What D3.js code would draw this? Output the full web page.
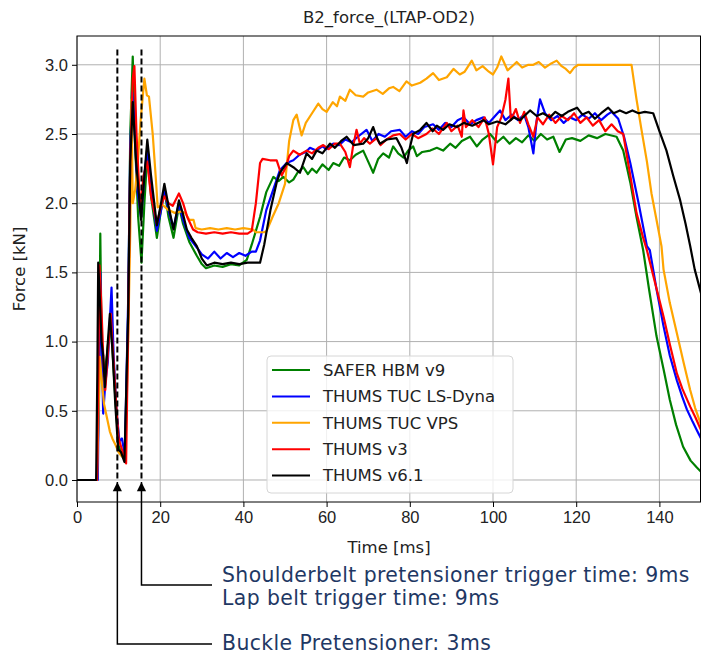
<!DOCTYPE html>
<html>
<head>
<meta charset="utf-8">
<script src="https://d3js.org/d3.v7.min.js"></script>
<style>
  body { margin: 0; background: #fff; }
  svg { display: block; font-family: "DejaVu Sans", sans-serif; }
  .tick text { font-size: 16.5px; fill: #222; }
</style>
</head>
<body>
<div id="chart"></div>
<script>
// time [ms], force [kN]
const safer = [[0,0],[4.8,0],[5.3,0.6],[5.6,1.78],[5.9,1.0],[6.5,0.75],[7.2,0.9],[8.0,1.15],[8.5,0.95],[9.3,0.55],[10,0.25],[10.8,0.18],[11.5,0.14],[12.3,1.2],[12.8,2.5],[13.4,3.06],[14.0,2.4],[14.7,1.9],[15.5,1.57],[16.2,2.0],[16.9,2.35],[17.8,2.05],[19.2,1.75],[20.2,1.95],[21,2.1],[22,1.9],[23.2,1.75],[24.5,1.98],[25.5,1.85],[27,1.72],[28.8,1.62],[30,1.56],[31,1.53],[33,1.55],[35,1.54],[37,1.56],[39,1.55],[40.8,1.59],[42,1.7],[44,1.9],[45.5,2.08],[47.2,2.19],[48.5,2.16],[49.6,2.19],[51,2.15],[52,2.17],[53,2.22],[54.4,2.26],[55.5,2.21],[56.5,2.25],[57.6,2.22],[59,2.28],[60.5,2.24],[61.6,2.29],[63,2.27],[64.2,2.33],[65.6,2.31],[67,2.35],[68.8,2.38],[70,2.3],[71.2,2.22],[72.4,2.32],[73.6,2.36],[75,2.33],[76,2.41],[77.2,2.36],[78.5,2.33],[79.6,2.38],[80.8,2.41],[81.7,2.34],[83,2.37],[84.9,2.38],[86.5,2.4],[88,2.38],[89.7,2.43],[91,2.4],[92.5,2.45],[94.5,2.48],[96.1,2.41],[97.5,2.46],[99.3,2.5],[101,2.44],[102.5,2.48],[104,2.43],[105.5,2.47],[107,2.44],[108.5,2.49],[110,2.45],[111.5,2.5],[113,2.46],[114.5,2.48],[116,2.37],[117.5,2.46],[119,2.47],[121,2.45],[123,2.49],[125,2.47],[127,2.5],[129.7,2.48],[131.3,2.38],[133,2.15],[134.5,1.9],[136.1,1.66],[137.5,1.38],[139.3,1.04],[141,0.8],[142.5,0.58],[144,0.4],[145.7,0.24],[147.5,0.14],[149,0.09],[150,0.06]];

const tucLsDyna = [[0,0],[5.0,0],[5.3,0.8],[5.6,1.5],[5.9,1.0],[6.3,0.48],[6.8,0.7],[7.4,0.85],[8.3,1.39],[8.8,0.9],[9.5,0.5],[10.2,0.28],[10.8,0.3],[11.5,0.18],[12.3,1.3],[12.8,2.4],[13.3,2.8],[13.8,2.6],[14.5,2.1],[15.4,1.9],[16.2,2.2],[16.9,2.4],[17.8,2.1],[19.2,1.8],[20.2,1.95],[21,2.1],[22,1.95],[23.2,1.82],[24.5,2.0],[25.5,1.88],[27,1.75],[28.8,1.68],[30,1.63],[31.5,1.6],[33,1.65],[34.5,1.6],[36,1.64],[37.5,1.61],[39,1.64],[40.5,1.62],[42,1.65],[43,1.65],[44,1.73],[45.5,1.95],[47.2,2.1],[48.8,2.24],[50.4,2.29],[52,2.31],[53.5,2.35],[55,2.37],[56,2.4],[57.5,2.38],[59,2.41],[60,2.39],[61.6,2.43],[63,2.42],[64.5,2.46],[66,2.44],[67.5,2.48],[69.6,2.53],[71,2.45],[72.5,2.5],[74,2.48],[75.5,2.52],[77.6,2.53],[79,2.48],[80.5,2.52],[82,2.5],[83.5,2.55],[85.6,2.57],[87,2.53],[88.5,2.58],[90,2.55],[91.5,2.6],[92.9,2.62],[94.5,2.57],[96,2.6],[97.7,2.62],[99,2.58],[100.5,2.63],[101.7,2.67],[103,2.6],[104.5,2.64],[106,2.6],[107.5,2.64],[108.5,2.55],[109.7,2.36],[110.5,2.6],[111.3,2.75],[112.5,2.65],[114,2.6],[115.5,2.63],[117,2.58],[118.5,2.62],[120,2.6],[121.5,2.64],[123,2.61],[124.5,2.65],[126,2.6],[127.5,2.64],[128.5,2.66],[130.1,2.61],[131.5,2.48],[133,2.29],[135,2.0],[137,1.69],[137.7,1.66],[139.3,1.38],[141,1.11],[142.5,0.9],[144.2,0.72],[145.5,0.6],[146.6,0.51],[148,0.42],[149,0.36],[150,0.3]];

const tucVps = [[0,0],[4.8,0],[5.1,0.4],[5.5,0.89],[6.0,0.7],[6.5,0.55],[7.2,0.45],[7.9,0.35],[8.5,0.3],[9.3,0.25],[10,0.2],[10.8,0.17],[11.6,0.15],[12.3,1.0],[12.8,1.8],[13.1,2.75],[13.4,2.0],[14.0,2.1],[14.6,2.29],[15.3,2.6],[16.2,2.9],[16.8,2.78],[17.3,2.77],[18.2,2.5],[18.9,2.2],[19.4,1.97],[20.5,1.99],[22,1.95],[23.5,1.93],[25,1.94],[26,1.93],[27,1.88],[28,1.88],[28.5,1.82],[30,1.81],[32,1.82],[34,1.81],[36,1.82],[38,1.81],[40,1.82],[42.3,1.81],[43,1.79],[45,1.79],[45.6,1.8],[47,1.9],[48.5,2.0],[50,2.14],[51,2.45],[52,2.6],[52.8,2.64],[53.5,2.55],[54,2.49],[55,2.58],[56.5,2.65],[58,2.72],[59,2.68],[60,2.66],[61.5,2.73],[62.5,2.7],[63.2,2.77],[64.5,2.74],[65.6,2.82],[67,2.78],[68.8,2.77],[70,2.8],[72,2.82],[73.5,2.79],[75,2.83],[76,2.84],[77.5,2.81],[79.2,2.88],[80.5,2.85],[82.5,2.87],[84,2.9],[85.6,2.94],[87,2.89],[88.9,2.91],[90.5,2.97],[92,2.93],[93.2,2.95],[94.9,3.03],[96,2.96],[97.5,2.99],[99,2.95],[100,2.93],[101,2.98],[102,3.06],[103.5,2.96],[105,3.0],[105.7,3.02],[107,2.98],[108.5,3.0],[109.7,3.0],[111,3.02],[112.5,2.98],[114,3.01],[115.3,3.03],[116.5,2.99],[117.5,2.97],[118.5,2.94],[119.5,2.98],[120.5,3.0],[125,3.0],[130,3.0],[133.3,3.0],[134.5,2.75],[135.7,2.53],[137,2.3],[138.1,2.07],[139.3,1.88],[140.5,1.69],[141,1.52],[142.5,1.28],[144.2,1.06],[145.8,0.85],[147.4,0.65],[148.6,0.52],[150,0.4]];

const thumsV3 = [[0,0],[4.8,0],[5.1,0.7],[5.4,1.55],[5.8,1.3],[6.3,0.9],[6.8,0.65],[7.5,0.95],[8.1,1.2],[8.7,0.9],[9.3,0.6],[10,0.3],[10.8,0.22],[11.8,0.12],[12.3,1.1],[12.8,2.3],[13.4,2.9],[13.8,2.99],[14.3,2.5],[15.2,1.95],[16.0,2.2],[16.9,2.3],[17.8,2.05],[19.2,1.85],[20.2,1.98],[21,2.05],[22,2.0],[23,1.98],[24.5,2.07],[25.5,2.0],[26.5,1.9],[27.9,1.81],[29,1.79],[31,1.78],[33,1.79],[35,1.78],[37,1.79],[39,1.78],[41,1.78],[42,1.8],[43,2.0],[44,2.29],[44.6,2.32],[46.4,2.31],[48,2.31],[49.2,2.2],[50.2,2.26],[51,2.34],[52,2.38],[53.5,2.35],[55.2,2.38],[56.5,2.36],[58,2.4],[59.2,2.42],[60.5,2.39],[62,2.43],[63.2,2.43],[64.5,2.37],[65.6,2.26],[66.3,2.4],[67.2,2.53],[68,2.43],[69,2.47],[70.4,2.43],[72,2.47],[73,2.42],[74.4,2.46],[76,2.49],[77.6,2.5],[79,2.46],[80.5,2.5],[82,2.47],[84,2.5],[85.5,2.54],[87,2.5],[88.9,2.58],[90,2.52],[91.5,2.56],[92.5,2.48],[92.9,2.67],[93.5,2.55],[95,2.6],[96.5,2.55],[98,2.62],[99,2.5],[100,2.28],[101,2.55],[102,2.62],[103,2.75],[103.7,2.9],[104.3,2.6],[105.5,2.68],[106.5,2.58],[107.5,2.66],[108.5,2.57],[109.7,2.48],[110.7,2.62],[112,2.57],[113.5,2.64],[115,2.58],[116.5,2.63],[118,2.6],[119.5,2.65],[121,2.58],[122.5,2.62],[124,2.56],[125.5,2.6],[127,2.52],[128.5,2.57],[130,2.52],[131.3,2.5],[133,2.2],[134.5,1.93],[136,1.76],[137,1.66],[138.5,1.48],[140,1.3],[141,1.18],[142.5,0.98],[144.2,0.77],[145.5,0.66],[147.4,0.53],[148.7,0.45],[150,0.36]];

const thumsV61 = [[0,0],[4.6,0],[4.9,0.8],[5.1,1.57],[5.5,1.3],[5.9,1.0],[6.3,0.9],[6.7,0.67],[7.3,0.95],[7.9,1.2],[8.5,0.95],[9.2,0.55],[9.9,0.22],[10.6,0.2],[11.4,0.13],[12.3,1.2],[12.8,2.3],[13.4,2.73],[14.2,2.3],[15.4,1.88],[16.2,2.2],[16.9,2.46],[17.8,2.2],[19.2,1.84],[20.2,2.0],[21,2.14],[22,1.98],[23.2,1.81],[24.5,2.02],[25.5,1.92],[26.4,1.81],[27.5,1.75],[28.8,1.69],[30,1.6],[31.2,1.55],[33,1.57],[35,1.56],[37,1.57],[39,1.56],[41,1.57],[44,1.57],[45,1.7],[46.5,1.95],[48,2.15],[48.8,2.22],[50.4,2.29],[52,2.26],[53.6,2.22],[55.2,2.36],[56.5,2.32],[57.6,2.38],[59,2.36],[60.8,2.43],[62,2.4],[63.5,2.45],[64.8,2.48],[66.5,2.42],[68.8,2.43],[70,2.47],[71.2,2.55],[72,2.48],[72.8,2.43],[74.5,2.46],[76.8,2.47],[78,2.4],[79.3,2.29],[80,2.4],[80.8,2.5],[82.5,2.53],[84,2.58],[85.5,2.52],[86.5,2.56],[88,2.53],[89.5,2.57],[91.3,2.55],[93,2.58],[95,2.56],[97.7,2.6],[99,2.57],[101,2.59],[103,2.57],[105,2.62],[106.5,2.6],[108.9,2.67],[110.5,2.63],[112,2.65],[113.7,2.62],[115,2.66],[116.5,2.63],[118,2.66],[120.2,2.69],[121.5,2.64],[123,2.66],[124.5,2.61],[126,2.65],[127.7,2.69],[129,2.65],[130.5,2.67],[132,2.65],[133.5,2.67],[135,2.65],[136.5,2.66],[138.5,2.65],[140,2.52],[141.7,2.38],[143.3,2.2],[145,2.02],[146.3,1.85],[147.4,1.69],[148.5,1.52],[150,1.35]];

const seriesNames = ['SAFER HBM v9', 'THUMS TUC LS-Dyna', 'THUMS TUC VPS', 'THUMS v3', 'THUMS v6.1'];
const seriesData = [safer, tucLsDyna, tucVps, thumsV3, thumsV61];
const seriesColors = ['green', 'blue', 'orange', 'red', 'black'];

const xTicks = [0, 20, 40, 60, 80, 100, 120, 140];
const yTicks = [0.0, 0.5, 1.0, 1.5, 2.0, 2.5, 3.0];

// trigger markers (dashed lines) and their notes
const markerTimes = [9.7, 15.5];
const notes = [
  { lines: ['Buckle Pretensioner: 3ms'], marker: 0 },
  { lines: ['Shoulderbelt pretensioner trigger time: 9ms', 'Lap belt trigger time: 9ms'], marker: 1 }
];

const width = 701, height = 657;
const margin = { top: 36, right: 0, bottom: 155, left: 77 };
const innerW = width - margin.left - margin.right;
const innerH = height - margin.top - margin.bottom;

const svg = d3.select('#chart').append('svg')
  .attr('width', width).attr('height', height);

const x = d3.scaleLinear().domain([0, 150]).range([margin.left, margin.left + innerW]);
const y = d3.scaleLinear().domain([-0.159, 3.208]).range([margin.top + innerH, margin.top]);

svg.append('defs').append('clipPath').attr('id', 'clip')
  .append('rect').attr('x', margin.left).attr('y', margin.top)
  .attr('width', innerW).attr('height', innerH);

// grid
const grid = svg.append('g').attr('stroke', '#b0b0b0').attr('stroke-width', 1);
grid.selectAll('.gx').data(xTicks).join('line')
  .attr('x1', d => x(d)).attr('x2', d => x(d))
  .attr('y1', margin.top).attr('y2', margin.top + innerH);
grid.selectAll('.gy').data(yTicks).join('line')
  .attr('x1', margin.left).attr('x2', margin.left + innerW)
  .attr('y1', d => y(d)).attr('y2', d => y(d));

// curves
const line = d3.line().x(d => x(d[0])).y(d => y(d[1]));
svg.append('g').attr('clip-path', 'url(#clip)')
  .selectAll('path').data(seriesData).join('path')
  .attr('d', line)
  .attr('fill', 'none')
  .attr('stroke', (d, i) => seriesColors[i])
  .attr('stroke-width', 2.2)
  .attr('stroke-linejoin', 'round');

// dashed trigger lines
svg.append('g').selectAll('line').data(markerTimes).join('line')
  .attr('x1', d => x(d)).attr('x2', d => x(d))
  .attr('y1', y(3.11)).attr('y2', y(0))
  .attr('stroke', 'black').attr('stroke-width', 2)
  .attr('stroke-dasharray', '6,3');

// frame
svg.append('rect')
  .attr('x', margin.left).attr('y', margin.top)
  .attr('width', innerW - 0.5).attr('height', innerH)
  .attr('fill', 'none').attr('stroke', 'black').attr('stroke-width', 1);

// axes
svg.append('g')
  .attr('transform', `translate(0,${margin.top + innerH})`)
  .call(d3.axisBottom(x).tickValues(xTicks).tickSize(5).tickPadding(4).tickFormat(d3.format('d')))
  .call(g => g.select('.domain').remove());
svg.append('g')
  .attr('transform', `translate(${margin.left},0)`)
  .call(d3.axisLeft(y).tickValues(yTicks).tickSize(5).tickPadding(4).tickFormat(d3.format('.1f')))
  .call(g => g.select('.domain').remove());

// title and labels
svg.append('text')
  .attr('x', margin.left + innerW / 2).attr('y', 23)
  .attr('text-anchor', 'middle').attr('font-size', 16.5).attr('fill', '#222')
  .text('B2_force_(LTAP-OD2)');
svg.append('text')
  .attr('x', margin.left + innerW / 2).attr('y', 553)
  .attr('text-anchor', 'middle').attr('font-size', 16.5).attr('fill', '#222')
  .text('Time [ms]');
svg.append('text')
  .attr('transform', `translate(25,${margin.top + innerH / 2}) rotate(-90)`)
  .attr('text-anchor', 'middle').attr('font-size', 16.5).attr('fill', '#222')
  .text('Force [kN]');

// legend
const legend = svg.append('g').attr('transform', 'translate(267,356)');
legend.append('rect')
  .attr('width', 246).attr('height', 137).attr('rx', 4)
  .attr('fill', 'white').attr('fill-opacity', 0.8)
  .attr('stroke', '#d6d6d6');
const item = legend.selectAll('.item').data(seriesNames).join('g')
  .attr('transform', (d, i) => `translate(0,${14 + i * 26.4})`);
item.append('line')
  .attr('x1', 5).attr('x2', 43)
  .attr('stroke', (d, i) => seriesColors[i]).attr('stroke-width', 2);
item.append('text')
  .attr('x', 56).attr('dy', '0.35em')
  .attr('font-size', 16.5).attr('fill', '#222')
  .text(d => d);

// annotation arrows
svg.append('defs').append('marker')
  .attr('id', 'arrow').attr('viewBox', '0 0 10 12')
  .attr('refX', 10).attr('refY', 6)
  .attr('markerWidth', 11).attr('markerHeight', 11)
  .attr('markerUnits', 'userSpaceOnUse')
  .attr('orient', 'auto')
  .append('path').attr('d', 'M0,1 L10,6 L0,11 Z').attr('fill', 'black');

const noteY = [644, 585];
const noteX = 212;
const noteBase = [[650], [582, 605]];
notes.forEach((n, i) => {
  const mx = x(markerTimes[n.marker]);
  svg.append('path')
    .attr('d', `M${noteX},${noteY[i]} H${mx} V482`)
    .attr('fill', 'none').attr('stroke', 'black').attr('stroke-width', 1.5)
    .attr('marker-end', 'url(#arrow)');
  n.lines.forEach((s, j) => {
    svg.append('text')
      .attr('x', noteX + 10).attr('y', noteBase[i][j])
      .attr('font-size', 20.4).attr('letter-spacing', 0.4).attr('fill', '#1f3864')
      .text(s);
  });
});
</script>
</body>
</html>
